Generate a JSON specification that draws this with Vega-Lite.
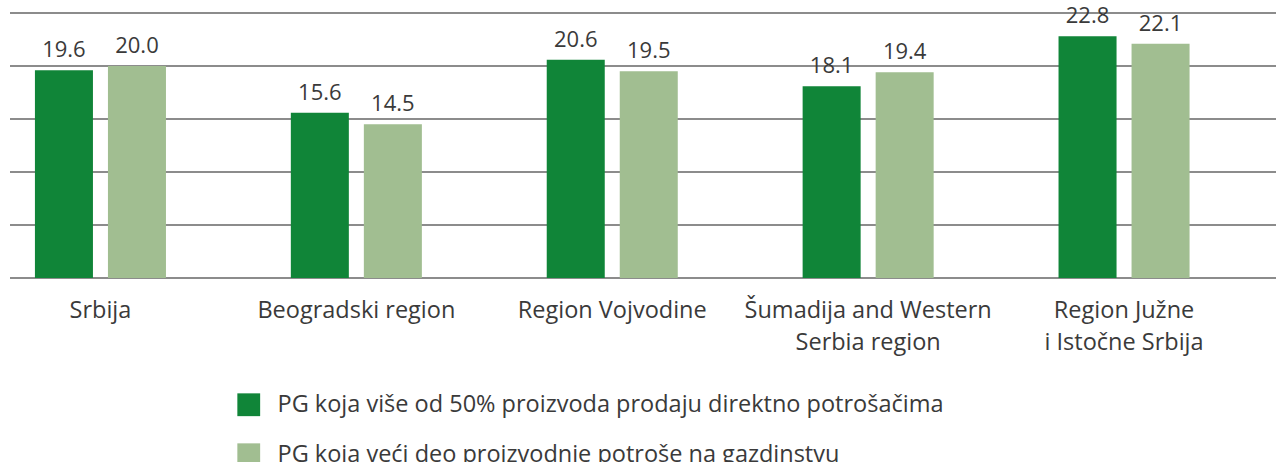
{
  "$schema": "https://vega.github.io/schema/vega-lite/v6.json",
  "width": 1266,
  "height": 265,
  "autosize": {"type": "none"},
  "padding": {"left": 10, "top": 13, "right": 0, "bottom": 184},
  "background": "white",
  "config": {
    "view": {"stroke": null},
    "font": "Open Sans"
  },
  "datasets": {
    "bars": [
      {"region": "Srbija", "series": "PG koja više od 50% proizvoda prodaju direktno potrošačima", "value": 19.6},
      {"region": "Srbija", "series": "PG koja veći deo proizvodnje potroše na gazdinstvu", "value": 20.0},
      {"region": "Beogradski region", "series": "PG koja više od 50% proizvoda prodaju direktno potrošačima", "value": 15.6},
      {"region": "Beogradski region", "series": "PG koja veći deo proizvodnje potroše na gazdinstvu", "value": 14.5},
      {"region": "Region Vojvodine", "series": "PG koja više od 50% proizvoda prodaju direktno potrošačima", "value": 20.6},
      {"region": "Region Vojvodine", "series": "PG koja veći deo proizvodnje potroše na gazdinstvu", "value": 19.5},
      {"region": "Šumadija and Western|Serbia region", "series": "PG koja više od 50% proizvoda prodaju direktno potrošačima", "value": 18.1},
      {"region": "Šumadija and Western|Serbia region", "series": "PG koja veći deo proizvodnje potroše na gazdinstvu", "value": 19.4},
      {"region": "Region Južne|i Istočne Srbija", "series": "PG koja više od 50% proizvoda prodaju direktno potrošačima", "value": 22.8},
      {"region": "Region Južne|i Istočne Srbija", "series": "PG koja veći deo proizvodnje potroše na gazdinstvu", "value": 22.1}
    ],
    "grid": [
      {"tick": 0}, {"tick": 5}, {"tick": 10}, {"tick": 15}, {"tick": 20}, {"tick": 25}
    ]
  },
  "layer": [
    {
      "data": {"name": "grid"},
      "mark": {"type": "rule", "color": "#666666", "strokeWidth": 1.5},
      "encoding": {
        "y": {"field": "tick", "type": "quantitative", "scale": {"domain": [0, 25]}, "axis": null}
      }
    },
    {
      "data": {"name": "bars"},
      "encoding": {
        "x": {
          "field": "region",
          "type": "nominal",
          "sort": null,
          "scale": {"range": [-37.5, 1242], "paddingInner": 0, "paddingOuter": 0},
          "axis": {
            "title": null,
            "domain": false,
            "ticks": false,
            "grid": false,
            "labelAngle": 0,
            "labelFontSize": 23.5,
            "labelColor": "#3a3a3a",
            "labelPadding": 20,
            "labelLineHeight": 32,
            "labelLimit": 1000,
            "labelExpr": "split(datum.label, '|')"
          }
        },
        "xOffset": {
          "field": "series",
          "type": "nominal",
          "sort": null,
          "scale": {"paddingInner": 0.2055, "paddingOuter": 0.855}
        },
        "y": {
          "field": "value",
          "type": "quantitative",
          "scale": {"domain": [0, 25]},
          "axis": null
        }
      },
      "layer": [
        {
          "mark": {"type": "bar"},
          "encoding": {
            "color": {
              "field": "series",
              "type": "nominal",
              "sort": null,
              "scale": {
                "domain": ["PG koja više od 50% proizvoda prodaju direktno potrošačima", "PG koja veći deo proizvodnje potroše na gazdinstvu"],
                "range": ["#108538", "#A1BE91"]
              },
              "legend": {
                "title": null,
                "orient": "none",
                "legendX": 227,
                "legendY": 380,
                "direction": "vertical",
                "symbolType": "square",
                "symbolSize": 520,
                "symbolStrokeWidth": 0,
                "symbolOpacity": 1,
                "labelFontSize": 23.5,
                "labelColor": "#3a3a3a",
                "labelOffset": 17,
                "labelLimit": 1000,
                "rowPadding": 25
              }
            }
          }
        },
        {
          "mark": {"type": "text", "dy": -13, "baseline": "alphabetic", "fontSize": 22, "color": "#3a3a3a"},
          "encoding": {
            "text": {"field": "value", "type": "quantitative", "format": ".1f"}
          }
        }
      ]
    }
  ]
}
